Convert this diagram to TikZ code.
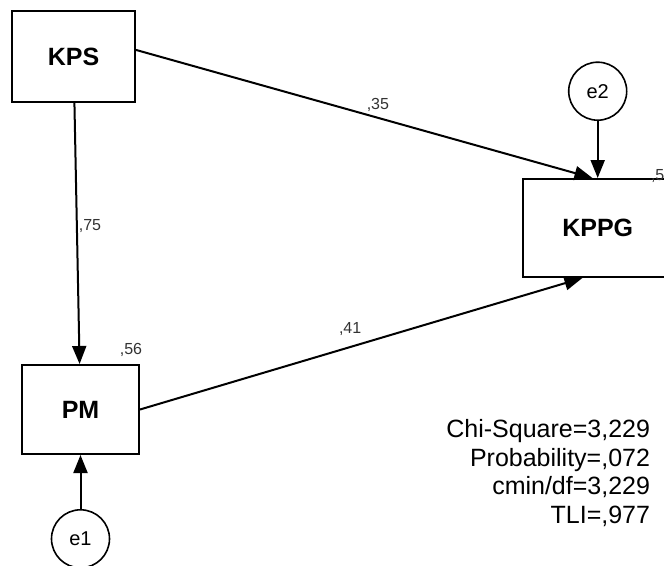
\documentclass[tikz,border=0pt]{standalone}
\usepackage{fontspec}
\setmainfont{Liberation Sans}
\usepackage{tikz}
\usetikzlibrary{positioning, arrows.meta}

\tikzset{
  obs/.style={draw, line width=2pt, inner sep=0pt, font=\fontsize{25}{25}\selectfont\bfseries},
  err/.style={draw, circle, line width=1.6pt, inner sep=0pt, minimum size=58pt, font=\fontsize{20}{20}\selectfont},
  est/.style={font=\fontsize{16}{16}\selectfont, text=black!80, inner sep=1pt},
  fit/.style={font=\fontsize{25}{25}\selectfont, anchor=base east, inner sep=0pt}
}

\begin{document}
\begin{tikzpicture}[x=1pt,y=-1pt,line width=2pt,>={Triangle[length=18pt,width=14pt]}]
      \clip (0,0) rectangle (664,565);
      \fill[white] (0,0) rectangle (664,565);
      \node[obs,minimum width=123pt,minimum height=91pt] (kps) at (73.5,56.5) {KPS};
      \node[obs,minimum width=117pt,minimum height=89pt] (pm) at (80.5,409.5) {PM};
      \node[obs,minimum width=150pt,minimum height=98pt] (kppg) at (597.7,228) {KPPG};
      \node[err] (e2) [above=57pt of kppg] {e2};
      \node[err] (e1) [below=54pt of pm] {e1};
      \node[est] (r2pm) at (131,350) {,56};
      \node[est,anchor=west] (r2kppg) at (649,176) {,56};
      \path[->]
      (kps) edge node[est,right,pos=0.47] {,75} (pm)
      (kps.6) edge node[est,above=4pt,pos=0.53] {,35} (kppg.96)
      (pm.east) edge node[est,above=9pt,pos=0.475] {,41} (kppg.253)
      (e2) edge (kppg)
      (e1) edge (pm);
      \node[fit] (chisq) at (651,437) {Chi-Square=3,229};
      \node[fit] (prob) at (651,466) {Probability=,072};
      \node[fit] (cmin) at (651,494) {cmin/df=3,229};
      \node[fit] (tli) at (651,523) {TLI=,977};
    \end{tikzpicture}
\end{document}
